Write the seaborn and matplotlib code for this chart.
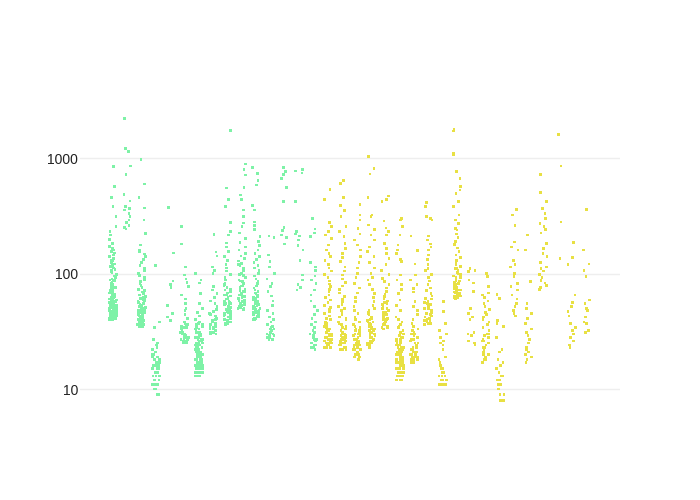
import matplotlib
matplotlib.use("Agg")
import matplotlib.pyplot as plt
import seaborn as sns
import pandas as pd
import numpy as np

# ---- data (one list per strip) ----
s01 = [841, 564, 457, 379, 311, 254, 230, 215, 196, 183, 172, 165, 160, 155, 151, 145, 140, 135, 131, 128,
       124, 121, 118, 115, 112, 108, 106, 103, 101, 99, 97, 95, 93, 92, 90, 88, 87, 86, 84, 83, 81, 80, 79,
       78, 77, 76, 75, 74, 73, 72, 71, 70, 69, 68, 67, 66, 66, 65, 64, 64, 63, 63, 62, 62, 61, 61, 60, 60,
       59, 59, 58, 58, 57, 57, 56, 56, 56, 55, 55, 54, 54, 53, 53, 53, 52, 52, 51, 51, 50, 50, 50, 49, 49,
       48, 48, 48, 47, 47, 47, 46, 46, 46, 45, 45, 45, 44, 44, 44, 43, 43, 43, 42, 42, 42, 41, 41, 41, 40,
       40, 40, 40, 41, 42, 43, 44, 45, 46, 47, 48, 49, 50, 52, 54, 57]
s02 = [2210, 1213, 1135, 851, 722, 485, 425, 379, 365, 355, 330, 310, 290, 275, 262, 250, 243]
s03 = [975, 596, 453, 369, 290, 223, 176, 160, 155, 148, 140, 132, 125, 118, 112, 106, 100, 96, 92, 88,
       85, 82, 79, 76, 73, 71, 69, 67, 65, 63, 62, 61, 60, 59, 58, 57, 56, 55, 54, 53, 52, 51, 50, 49, 48,
       47, 47, 46, 46, 45, 45, 44, 44, 43, 43, 42, 42, 41, 41, 40, 40, 39, 39, 38, 38, 37, 37, 36, 36, 35,
       35, 35, 36, 37, 38, 39, 40, 41, 42, 44, 46, 48, 50, 53]
s04 = [117, 38, 34, 27, 25, 24, 23, 22, 21, 20, 20, 19, 19, 18, 18, 17, 17, 17, 16, 16, 16, 16, 15, 15,
       15, 15, 14, 14, 14, 14, 13, 13, 13, 13, 12, 12, 12, 12, 11, 11, 11, 11, 10, 10, 10, 10, 9, 9, 9, 9]
s05 = [371, 151, 86, 80, 76, 53, 45, 42, 39]
s06 = [254, 180, 114, 97, 90, 84, 77, 65, 60, 55, 50, 48, 44, 41, 38, 37, 36, 35, 34, 33, 32, 31, 31, 30,
       29, 29, 28, 28, 27, 27, 26, 26, 25, 25, 36, 34, 32, 30, 28, 27, 26, 25]
s07 = [100, 88, 83, 67, 55, 50, 46, 43, 40, 38, 37, 36, 35, 34, 33, 32, 31, 30, 30, 29, 28, 28, 27, 27,
       26, 26, 25, 25, 24, 24, 23, 23, 22, 22, 22, 21, 21, 21, 20, 20, 20, 19, 19, 19, 18, 18, 18, 17, 17,
       17, 16, 16, 16, 15, 15, 15, 14, 14, 14, 13, 13, 13, 36, 33, 31, 29, 27, 26, 25, 24, 23, 22, 21, 20,
       20, 19, 19, 18, 18, 17, 17, 16, 16, 15, 15, 14, 14, 13, 13, 30, 28, 26, 24, 22, 21]
s08 = [219, 154, 142, 114, 106, 100, 77, 72, 67, 62, 58, 55, 52, 49, 47, 45, 43, 41, 40, 39, 38, 37, 36,
       35, 34, 33, 32, 31, 31, 30, 30, 44, 40, 37, 35, 33, 32, 31]
s09 = [1722, 550, 440, 379, 277, 230, 215, 184, 170, 155, 140, 130, 120, 112, 105, 98, 92, 88, 82, 79, 76,
       73, 70, 68, 66, 64, 62, 60, 58, 57, 55, 54, 52, 51, 50, 49, 48, 47, 46, 45, 44, 43, 42, 41, 40, 39,
       38, 37, 36, 80, 72, 65, 60, 56, 53, 50, 48, 46, 44, 42, 40, 39, 38, 37, 36, 55, 47, 43]
s10 = [888, 796, 713, 556, 480, 440, 355, 311, 273, 254, 224, 200, 185, 170, 160, 150, 142, 135, 128, 122,
       116, 110, 105, 100, 96, 92, 88, 85, 82, 79, 76, 73, 71, 69, 67, 65, 63, 61, 59, 57, 56, 54, 53, 52,
       51, 50, 49, 120, 98, 86, 78, 70, 66, 62, 58, 55, 52, 50]
s11 = [830, 738, 640, 585, 390, 355, 280, 260, 240, 210, 190, 175, 160, 150, 140, 132, 125, 118, 112, 106,
       100, 95, 90, 86, 82, 78, 75, 72, 70, 67, 65, 63, 61, 59, 57, 55, 53, 52, 50, 49, 47, 46, 45, 44, 43,
       42, 41, 40, 68, 62, 58, 54, 51, 48, 46, 44, 42, 41, 40, 56, 50, 45]
s12 = [211, 205, 145, 127, 114, 100, 90, 82, 77, 70, 64, 58, 53, 48, 45, 42, 40, 38, 36, 35, 34, 33, 32,
       31, 30, 29, 29, 28, 28, 27, 33, 31, 30, 29, 28, 27]
s13 = [830, 765, 720, 665, 556, 418, 250, 235, 215, 205, 180]
s14 = [800, 770, 740, 418, 230, 220, 211, 195, 175, 160, 130, 97, 88, 80, 76, 72]
s15 = [300, 243, 225, 210, 124, 114, 106, 95, 88, 82, 72, 65, 58, 52, 48, 44, 41, 38, 36, 34, 32, 30, 29,
       28, 27, 26, 25, 24, 23, 22, 31, 27, 25, 24, 23]
s16 = [534, 440, 276, 254, 230, 215, 201, 176, 160, 150, 140, 130, 120, 112, 105, 98, 92, 86, 81, 77, 73,
       69, 65, 62, 59, 56, 53, 51, 49, 47, 45, 43, 41, 40, 38, 37, 36, 35, 34, 33, 32, 31, 30, 30, 29, 28,
       28, 27, 26, 26, 25, 25, 24, 24, 23, 23, 35, 33, 31, 30, 29, 28, 27, 26, 25, 24, 23, 32, 29, 27, 25]
s17 = [640, 600, 457, 390, 350, 311, 254, 230, 210, 183, 165, 150, 138, 127, 114, 105, 97, 90, 84, 78, 73,
       68, 63, 60, 57, 54, 52, 50, 48, 46, 44, 42, 41, 40, 38, 37, 36, 35, 34, 33, 32, 31, 30, 30, 29, 28,
       28, 27, 26, 26, 25, 25, 24, 24, 23, 23, 22, 22, 36, 33, 31, 29, 28, 27, 26, 25, 24, 23, 22, 30, 26]
s18 = [396, 321, 290, 246, 220, 195, 176, 160, 140, 125, 112, 100, 92, 82, 75, 68, 62, 57, 52, 48, 45, 42,
       40, 38, 36, 34, 33, 32, 31, 30, 29, 28, 27, 27, 26, 25, 25, 24, 24, 23, 23, 22, 22, 21, 21, 20, 20,
       20, 19, 19, 19, 18, 35, 32, 30, 28, 27, 26, 25, 24, 23, 22, 21, 20, 19, 18, 29, 26, 24, 22, 20]
s19 = [1026, 810, 728, 453, 321, 313, 263, 240, 215, 195, 170, 155, 140, 125, 112, 100, 92, 88, 80, 73, 67,
       62, 57, 53, 50, 48, 46, 44, 42, 40, 39, 38, 37, 36, 35, 34, 33, 32, 31, 30, 29, 28, 28, 27, 26, 26,
       25, 25, 24, 24, 23, 45, 41, 38, 36, 34, 32, 30, 29, 28, 27, 26, 25, 24, 33, 31]
s20 = [469, 440, 418, 284, 247, 230, 215, 183, 165, 149, 135, 120, 106, 98, 91, 85, 80, 75, 70, 66, 63, 60,
       58, 56, 54, 52, 50, 48, 46, 45, 44, 42, 41, 40, 39, 38, 37, 36, 35, 34, 33, 55, 50, 46, 43, 40, 38,
       36, 35, 34]
s21 = [300, 290, 254, 215, 176, 160, 149, 133, 127, 97, 88, 80, 73, 67, 59, 53, 48, 42, 40, 38, 36, 34, 32,
       31, 30, 29, 28, 27, 26, 25, 24, 24, 23, 23, 22, 22, 21, 21, 20, 20, 19, 19, 18, 18, 18, 17, 17, 17,
       16, 16, 16, 15, 15, 15, 14, 14, 14, 13, 13, 13, 12, 12, 12, 35, 30, 27, 25, 23, 22, 21, 20, 19, 18,
       17, 16, 15, 14, 13, 12, 12, 13, 14, 15, 16, 17, 18, 19, 20, 21, 22, 24, 26, 28]
s22 = [211, 158, 121, 97, 88, 80, 74, 69, 57, 52, 48, 44, 40, 37, 35, 33, 32, 31, 30, 29, 28, 27, 26, 25,
       24, 23, 22, 22, 21, 21, 20, 20, 19, 19, 18, 18, 17, 17, 30, 27, 25, 23, 21, 20, 19, 18, 17]
s23 = [412, 379, 313, 300, 290, 211, 195, 180, 170, 160, 145, 132, 120, 110, 106, 98, 92, 86, 80, 75, 71,
       67, 64, 61, 58, 56, 54, 52, 50, 48, 46, 45, 44, 42, 41, 40, 39, 38, 37, 36, 60, 55, 50, 46, 43, 40,
       38, 37]
s24 = [57, 47, 37, 32, 30, 28, 25, 26, 24, 22, 19, 18, 17, 16, 15, 15, 14, 14, 13, 13, 12, 12, 12, 11, 11,
       11, 13, 12, 11]
s25 = [1770, 1718, 1100, 1060, 765, 666, 570, 530, 495, 418, 379, 320, 290, 270, 246, 238, 220, 205, 190,
       178, 166, 155, 145, 138, 130, 125, 120, 115, 110, 106, 102, 98, 95, 92, 89, 86, 84, 82, 80, 78, 76,
       74, 72, 70, 68, 67, 66, 65, 64, 63, 62, 61, 110, 100, 92, 86, 80, 76, 72, 69, 66, 64, 62]
s26 = [111, 106, 104, 88, 83, 70, 50, 45, 42, 40, 31, 30, 29, 26, 25, 24]
s27 = [100, 94, 77, 68, 65, 62, 58, 55, 52, 49, 46, 44, 42, 40, 38, 36, 34, 32, 30, 29, 28, 27, 26, 25, 24,
       23, 22, 21, 20, 19, 18, 17, 30, 26, 23, 20, 18]
s28 = [66, 61, 39, 37, 35, 28, 22, 21, 18, 17, 16, 15, 14, 13, 12, 11, 10, 10, 9, 9, 8, 8, 13, 12, 11]
s29 = [359, 320, 259, 188, 170, 160, 130, 120, 114, 100, 94, 82, 77, 72, 65, 60, 55, 52, 48, 45, 43]
s30 = [215, 160, 86, 85, 55, 50, 45, 41, 37, 33, 31, 29, 27, 25, 23, 22, 21, 20, 19, 18, 17]
s31 = [720, 506, 418, 365, 330, 300, 272, 254, 240, 224, 183, 165, 149, 140, 125, 114, 111, 105, 98, 92,
       87, 83, 79, 76, 73]
s32 = [1600, 851, 280, 135]
s33 = [185, 137, 120, 65, 56, 52, 47, 43, 37, 34, 32, 30, 28, 26, 24, 23]
s34 = [360, 160, 121, 106, 94, 59, 55, 50, 48, 42, 38, 37, 32, 31]

green_strips = [s01, s02, s03, s04, s05, s06, s07, s08, s09, s10, s11, s12, s13, s14, s15]
yellow_strips = [s16, s17, s18, s19, s20, s21, s22, s23, s24, s25, s26, s27, s28, s29, s30, s31, s32, s33, s34]
tick_values = [10, 100, 1000]
tick_labels = ["10", "100", "1000"]
GREEN = "#7ef2a7"
YELLOW = "#e8e043"

rows = []
all_strips = green_strips + yellow_strips
categories = [f"c{i:02d}" for i in range(len(all_strips))]
for i, strip in enumerate(all_strips):
    grp = "g" if i < len(green_strips) else "y"
    for v in strip:
        rows.append({"cat": categories[i], "val": v, "grp": grp})
df = pd.DataFrame(rows)

sns.set_theme(style="white")
plt.rcParams['font.family'] = ['Liberation Sans', 'DejaVu Sans']

fig = plt.figure(figsize=(7, 5), dpi=100)
ax = fig.add_axes([80 / 700, 80 / 500, 540 / 700, 320 / 500])
ax.set_yscale("log")
np.random.seed(3)
sns.stripplot(data=df, x="cat", y="val", hue="grp", order=categories,
              palette={"g": GREEN, "y": YELLOW}, jitter=0.27, size=1.9,
              linewidth=0, marker="s", legend=False, ax=ax, zorder=3)

ax.set_xlim(-2.302, 35.37)
ax.set_ylim(5.40, 3177)
ax.set_yticks(tick_values)
ax.set_yticklabels(tick_labels)
ax.yaxis.set_minor_locator(matplotlib.ticker.NullLocator())
ax.set_xticks([])
ax.set_xlabel("")
ax.set_ylabel("")
ax.grid(axis="y", color="#eeeeee", linewidth=1, zorder=0)
ax.set_axisbelow(True)
for sp in ax.spines.values():
    sp.set_visible(False)
ax.tick_params(axis="y", length=0, pad=1.5, labelsize=10, labelcolor="#222222")

fig.savefig("out.png", dpi=100, facecolor="white")
